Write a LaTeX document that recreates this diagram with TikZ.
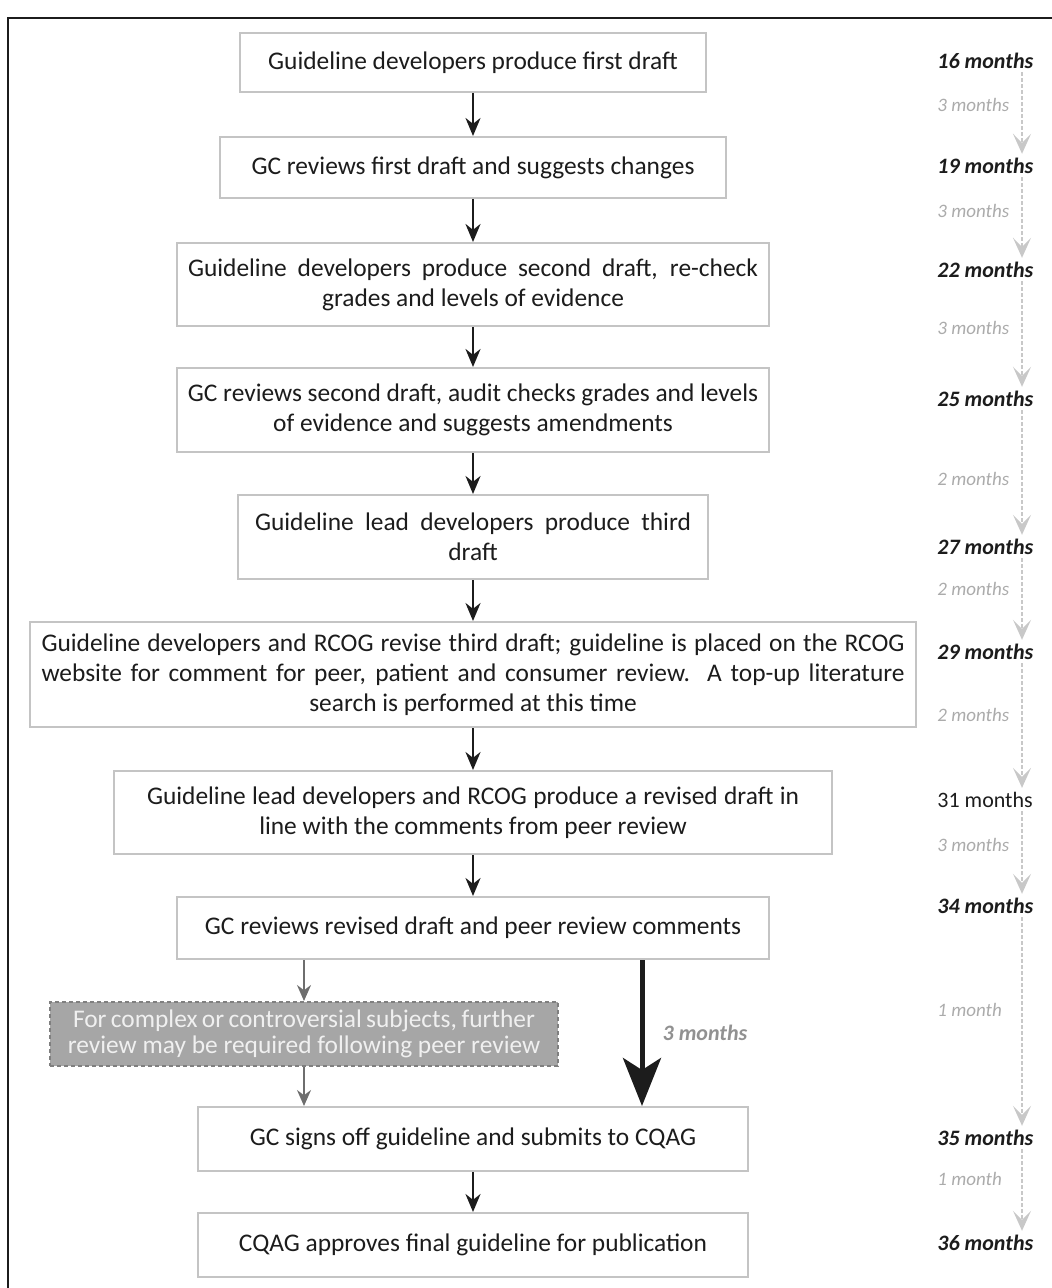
\documentclass[tikz,border=0pt]{standalone}
\usepackage{fontspec}
\setmainfont{Carlito}
\usetikzlibrary{arrows.meta, positioning}
\definecolor{ink}{HTML}{1C1C1C}
\definecolor{boxline}{HTML}{C4C4C4}
\definecolor{extrafill}{HTML}{A6A6A6}
\definecolor{extraline}{HTML}{7F7F7F}
\definecolor{sidegrey}{HTML}{6E6E6E}
\definecolor{gapgrey}{HTML}{ABABAB}
\definecolor{dashgrey}{HTML}{C8C8C8}
\newcommand{\fullline}[2]{\makebox[#1][s]{#2}}

\begin{document}
\begin{tikzpicture}[x=0.5pt, y=-0.5pt]
		\tikzstyle{Step} = [rectangle, draw=boxline, line width=1pt, fill=white, text=ink, align=center, inner sep=0pt, font=\fontsize{12.7}{15}\selectfont]
		\tikzstyle{Extra} = [Step, fill=extrafill, draw=extraline, dash pattern=on 2pt off 1.5pt, text=white!94!black, font=\fontsize{12.7}{13}\selectfont]
		\tikzstyle{Month} = [anchor=west, inner sep=0pt, text=ink, font=\fontsize{11}{13}\selectfont\bfseries\itshape]
		\tikzstyle{Gap} = [anchor=west, inner sep=0pt, text=gapgrey, font=\fontsize{9.5}{11}\selectfont\itshape]
		\tikzstyle{arrow} = [draw=ink, line width=1.2pt, -{Stealth[length=9pt, width=7.5pt]}]
		\tikzstyle{Sidearrow} = [draw=sidegrey, line width=1pt, -{Stealth[length=8pt, width=7pt]}]
		\tikzstyle{Bigarrow} = [draw=ink, line width=2.5pt, -{Stealth[length=24pt, width=19pt, inset=6pt]}]
		\tikzstyle{Timearrow} = [draw=dashgrey, line width=0.9pt, dash pattern=on 2pt off 1pt, shorten <=1.5pt, shorten >=2pt, -{Stealth[length=10pt, width=9pt, inset=4.5pt]}]

		\useasboundingbox (0,0) rectangle (1052,1288);
		\draw[ink, line width=1pt] (1052,18) -- (8,18) -- (8,1288);

		\node (draft1) [Step, minimum width=233pt, minimum height=29.5pt] at (473,62.5) {Guideline developers produce first draft};
		\node (review1) [Step, minimum width=253pt, minimum height=30.5pt] at (473,167.5) {GC reviews first draft and suggests changes};
		\node (draft2) [Step, minimum width=296pt, minimum height=41.5pt] at (473,284.5) {\fullline{285pt}{Guideline developers produce second draft, re-check}\\grades and levels of evidence};
		\node (review2) [Step, minimum width=296pt, minimum height=42pt] at (473,410) {GC reviews second draft, audit checks grades and levels\\of evidence and suggests amendments};
		\node (draft3) [Step, minimum width=235pt, minimum height=42pt] at (473,537) {\fullline{218pt}{Guideline lead developers produce third}\\draft};
		\node (consult) [Step, minimum width=443pt, minimum height=52.5pt] at (473,674.5) {\fullline{431.5pt}{Guideline developers and RCOG revise third draft; guideline is placed on the RCOG}\\\fullline{431.5pt}{website for comment for peer, patient and consumer review.\ \ A top-up literature}\\search is performed at this time};
		\node (revised) [Step, minimum width=359pt, minimum height=41.5pt] at (473,812.5) {\fullline{326pt}{Guideline lead developers and RCOG produce a revised draft in}\\line with the comments from peer review};
		\node (review3) [Step, minimum width=296pt, minimum height=31pt] at (473,928) {GC reviews revised draft and peer review comments};
		\node (extra) [Extra, minimum width=254pt, minimum height=32pt] at (304,1034) {\fullline{231pt}{For complex or controversial subjects, further}\\review may be required following peer review};
		\node (signoff) [Step, minimum width=275pt, minimum height=32pt] at (473,1139) {GC signs off guideline and submits to CQAG};
		\node (approve) [Step, minimum width=275pt, minimum height=32pt] at (473,1245) {CQAG approves final guideline for publication};

		\draw[arrow] (draft1) -- (review1);
		\draw[arrow] (review1) -- (draft2);
		\draw[arrow] (draft2) -- (review2);
		\draw[arrow] (review2) -- (draft3);
		\draw[arrow] (draft3) -- (consult);
		\draw[arrow] (consult) -- (revised);
		\draw[arrow] (revised) -- (review3);
		\draw[arrow] (signoff) -- (approve);
		\draw[Sidearrow] (review3.south -| extra) -- (extra);
		\draw[Sidearrow] (extra) -- (signoff.north -| extra);
		\coordinate (bigx) at (642,0);
		\draw[Bigarrow] (review3.south -| bigx) -- (signoff.north -| bigx);
		\node (skip) [text=gapgrey!85!black, inner sep=0pt, font=\fontsize{11}{13}\selectfont\bfseries\itshape] at (705,1033) {3 months};

		\node (m16) [Month] at (937,61) {16 months};
		\node (m19) [Month] at (937,166) {19 months};
		\node (m22) [Month] at (937,270) {22 months};
		\node (m25) [Month] at (937,399) {25 months};
		\node (m27) [Month] at (937,547) {27 months};
		\node (m29) [Month] at (937,652) {29 months};
		\node (m31) [Month, font=\fontsize{11}{13}\selectfont] at (937,800) {31 months};
		\node (m34) [Month] at (937,906) {34 months};
		\node (m35) [Month] at (937,1138) {35 months};
		\node (m36) [Month] at (937,1243) {36 months};

		\node (g1) [Gap] at (937,105) {3 months};
		\node (g2) [Gap] at (937,211) {3 months};
		\node (g3) [Gap] at (937,328) {3 months};
		\node (g4) [Gap] at (937,479) {2 months};
		\node (g5) [Gap] at (937,589) {2 months};
		\node (g6) [Gap] at (937,715) {2 months};
		\node (g7) [Gap] at (937,845) {3 months};
		\node (g8) [Gap] at (937,1010) {1 month};
		\node (g9) [Gap] at (937,1179) {1 month};

		\coordinate (tline) at (1022,0);
		\draw[Timearrow] (m16.south -| tline) -- (m19.north -| tline);
		\draw[Timearrow] (m19.south -| tline) -- (m22.north -| tline);
		\draw[Timearrow] (m22.south -| tline) -- (m25.north -| tline);
		\draw[Timearrow] (m25.south -| tline) -- (m27.north -| tline);
		\draw[Timearrow] (m27.south -| tline) -- (m29.north -| tline);
		\draw[Timearrow] (m29.south -| tline) -- (m31.north -| tline);
		\draw[Timearrow] (m31.south -| tline) -- (m34.north -| tline);
		\draw[Timearrow] (m34.south -| tline) -- (m35.north -| tline);
		\draw[Timearrow] (m35.south -| tline) -- (m36.north -| tline);
		\end{tikzpicture}
\end{document}
